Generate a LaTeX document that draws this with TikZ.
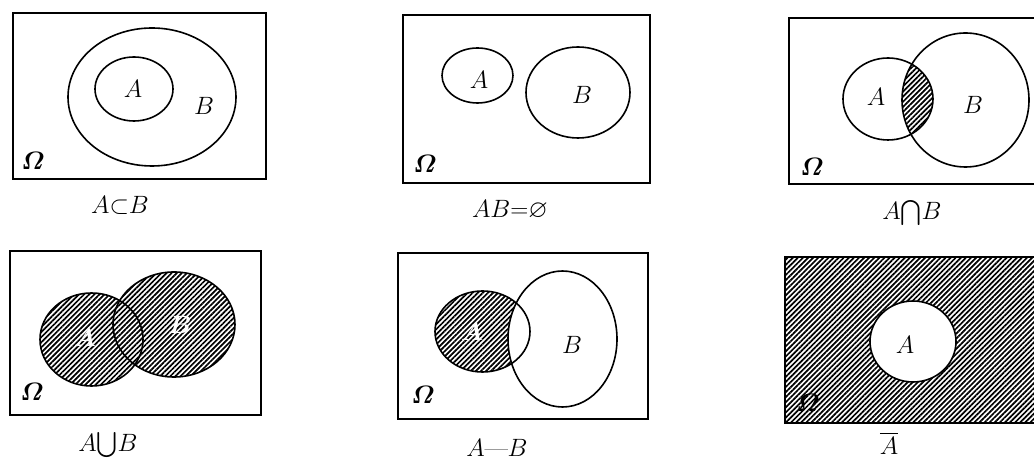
\documentclass[tikz,border=0pt]{standalone}
\usepackage{amsmath,amssymb}
\usetikzlibrary{patterns.meta}

\begin{document}
\begin{tikzpicture}[x=1pt, y=1pt, line width=1.6pt,
  hatch/.style={pattern={Lines[angle=45, distance=3.6pt, line width=1.7pt]}},
  lbl/.style={font=\LARGE, scale=1.45, inner sep=1pt},
  knock/.style={lbl, text=white}]
  \clip (0,0) rectangle (1034,460);
  % A subset of B
  \draw (13,281) rectangle (266,447);
  \draw (152,363) ellipse [x radius=84, y radius=69];
  \draw (134,371) ellipse [x radius=39, y radius=32];
  \node[lbl] (a1) at (133,371) {$A$};
  \node[lbl] (b1) at (204,354) {$B$};
  \node[lbl] (om1) at (33,299) {$\boldsymbol{\varOmega}$};
  \node[lbl] (c1) at (120,255) {$A{\subset}B$};
  % disjoint
  \draw (403,277) rectangle (650,445);
  \draw (477.5,384.5) ellipse [x radius=35.5, y radius=27.5];
  \draw (578,367.5) ellipse [x radius=52, y radius=45.5];
  \node[lbl] (a2) at (479,380) {$A$};
  \node[lbl] (b2) at (582,365) {$B$};
  \node[lbl] (om2) at (425,296) {$\boldsymbol{\varOmega}$};
  \node[lbl] (c2) at (510,250) {$AB{=}\varnothing$};
  % intersection
  \begin{scope}
    \clip (888,361) ellipse [x radius=45, y radius=41];
    \fill[hatch] (965.5,360) ellipse [x radius=63.5, y radius=67];
  \end{scope}
  \draw (789,276) rectangle (1040,442);
  \draw (888,361) ellipse [x radius=45, y radius=41];
  \draw (965.5,360) ellipse [x radius=63.5, y radius=67];
  \node[lbl] (a3) at (876,363) {$A$};
  \node[lbl] (b3) at (973,355) {$B$};
  \node[lbl] (om3) at (812,293) {$\boldsymbol{\varOmega}$};
  \node[lbl] (c3) at (912,247) {$A{\bigcap}B$};
  % union
  \fill[hatch] (91.5,120.5) ellipse [x radius=51.5, y radius=46.5]
    (174,135.5) ellipse [x radius=61, y radius=52.5];
  \draw (10,45) rectangle (261,209);
  \draw (91.5,120.5) ellipse [x radius=51.5, y radius=46.5];
  \draw (174,135.5) ellipse [x radius=61, y radius=52.5];
  \node[knock] (a4) at (85,122) {$\boldsymbol{A}$};
  \node[knock] (b4) at (180,135) {$\boldsymbol{B}$};
  \node[lbl] (om4) at (32,68) {$\boldsymbol{\varOmega}$};
  \node[lbl] (c4) at (108,15) {$A{\bigcup}B$};
  % difference
  \fill[hatch] (482.5,128.5) ellipse [x radius=47.5, y radius=40.5];
  \fill[white] (562.5,121) ellipse [x radius=54.5, y radius=68];
  \draw (398,41) rectangle (648,207);
  \draw (482.5,128.5) ellipse [x radius=47.5, y radius=40.5];
  \draw (562.5,121) ellipse [x radius=54.5, y radius=68];
  \node[knock] (a5) at (472,128) {$\boldsymbol{A}$};
  \node[lbl] (b5) at (572,115) {$B$};
  \node[lbl] (om5) at (423,65) {$\boldsymbol{\varOmega}$};
  \node[lbl] (c5) at (497,12) {$A\text{---}B$};
  % complement
  \fill[hatch] (785,37) rectangle (1040,203);
  \fill[white] (913,118.5) ellipse [x radius=43, y radius=40.5];
  \draw (785,37) rectangle (1040,203);
  \draw (913,118.5) ellipse [x radius=43, y radius=40.5];
  \node[lbl] (a6) at (905,115) {$A$};
  \node[lbl] (om6) at (808,57) {$\boldsymbol{\varOmega}$};
  \node[lbl] (c6) at (889,17) {$\overline{A}$};
\end{tikzpicture}
\end{document}
